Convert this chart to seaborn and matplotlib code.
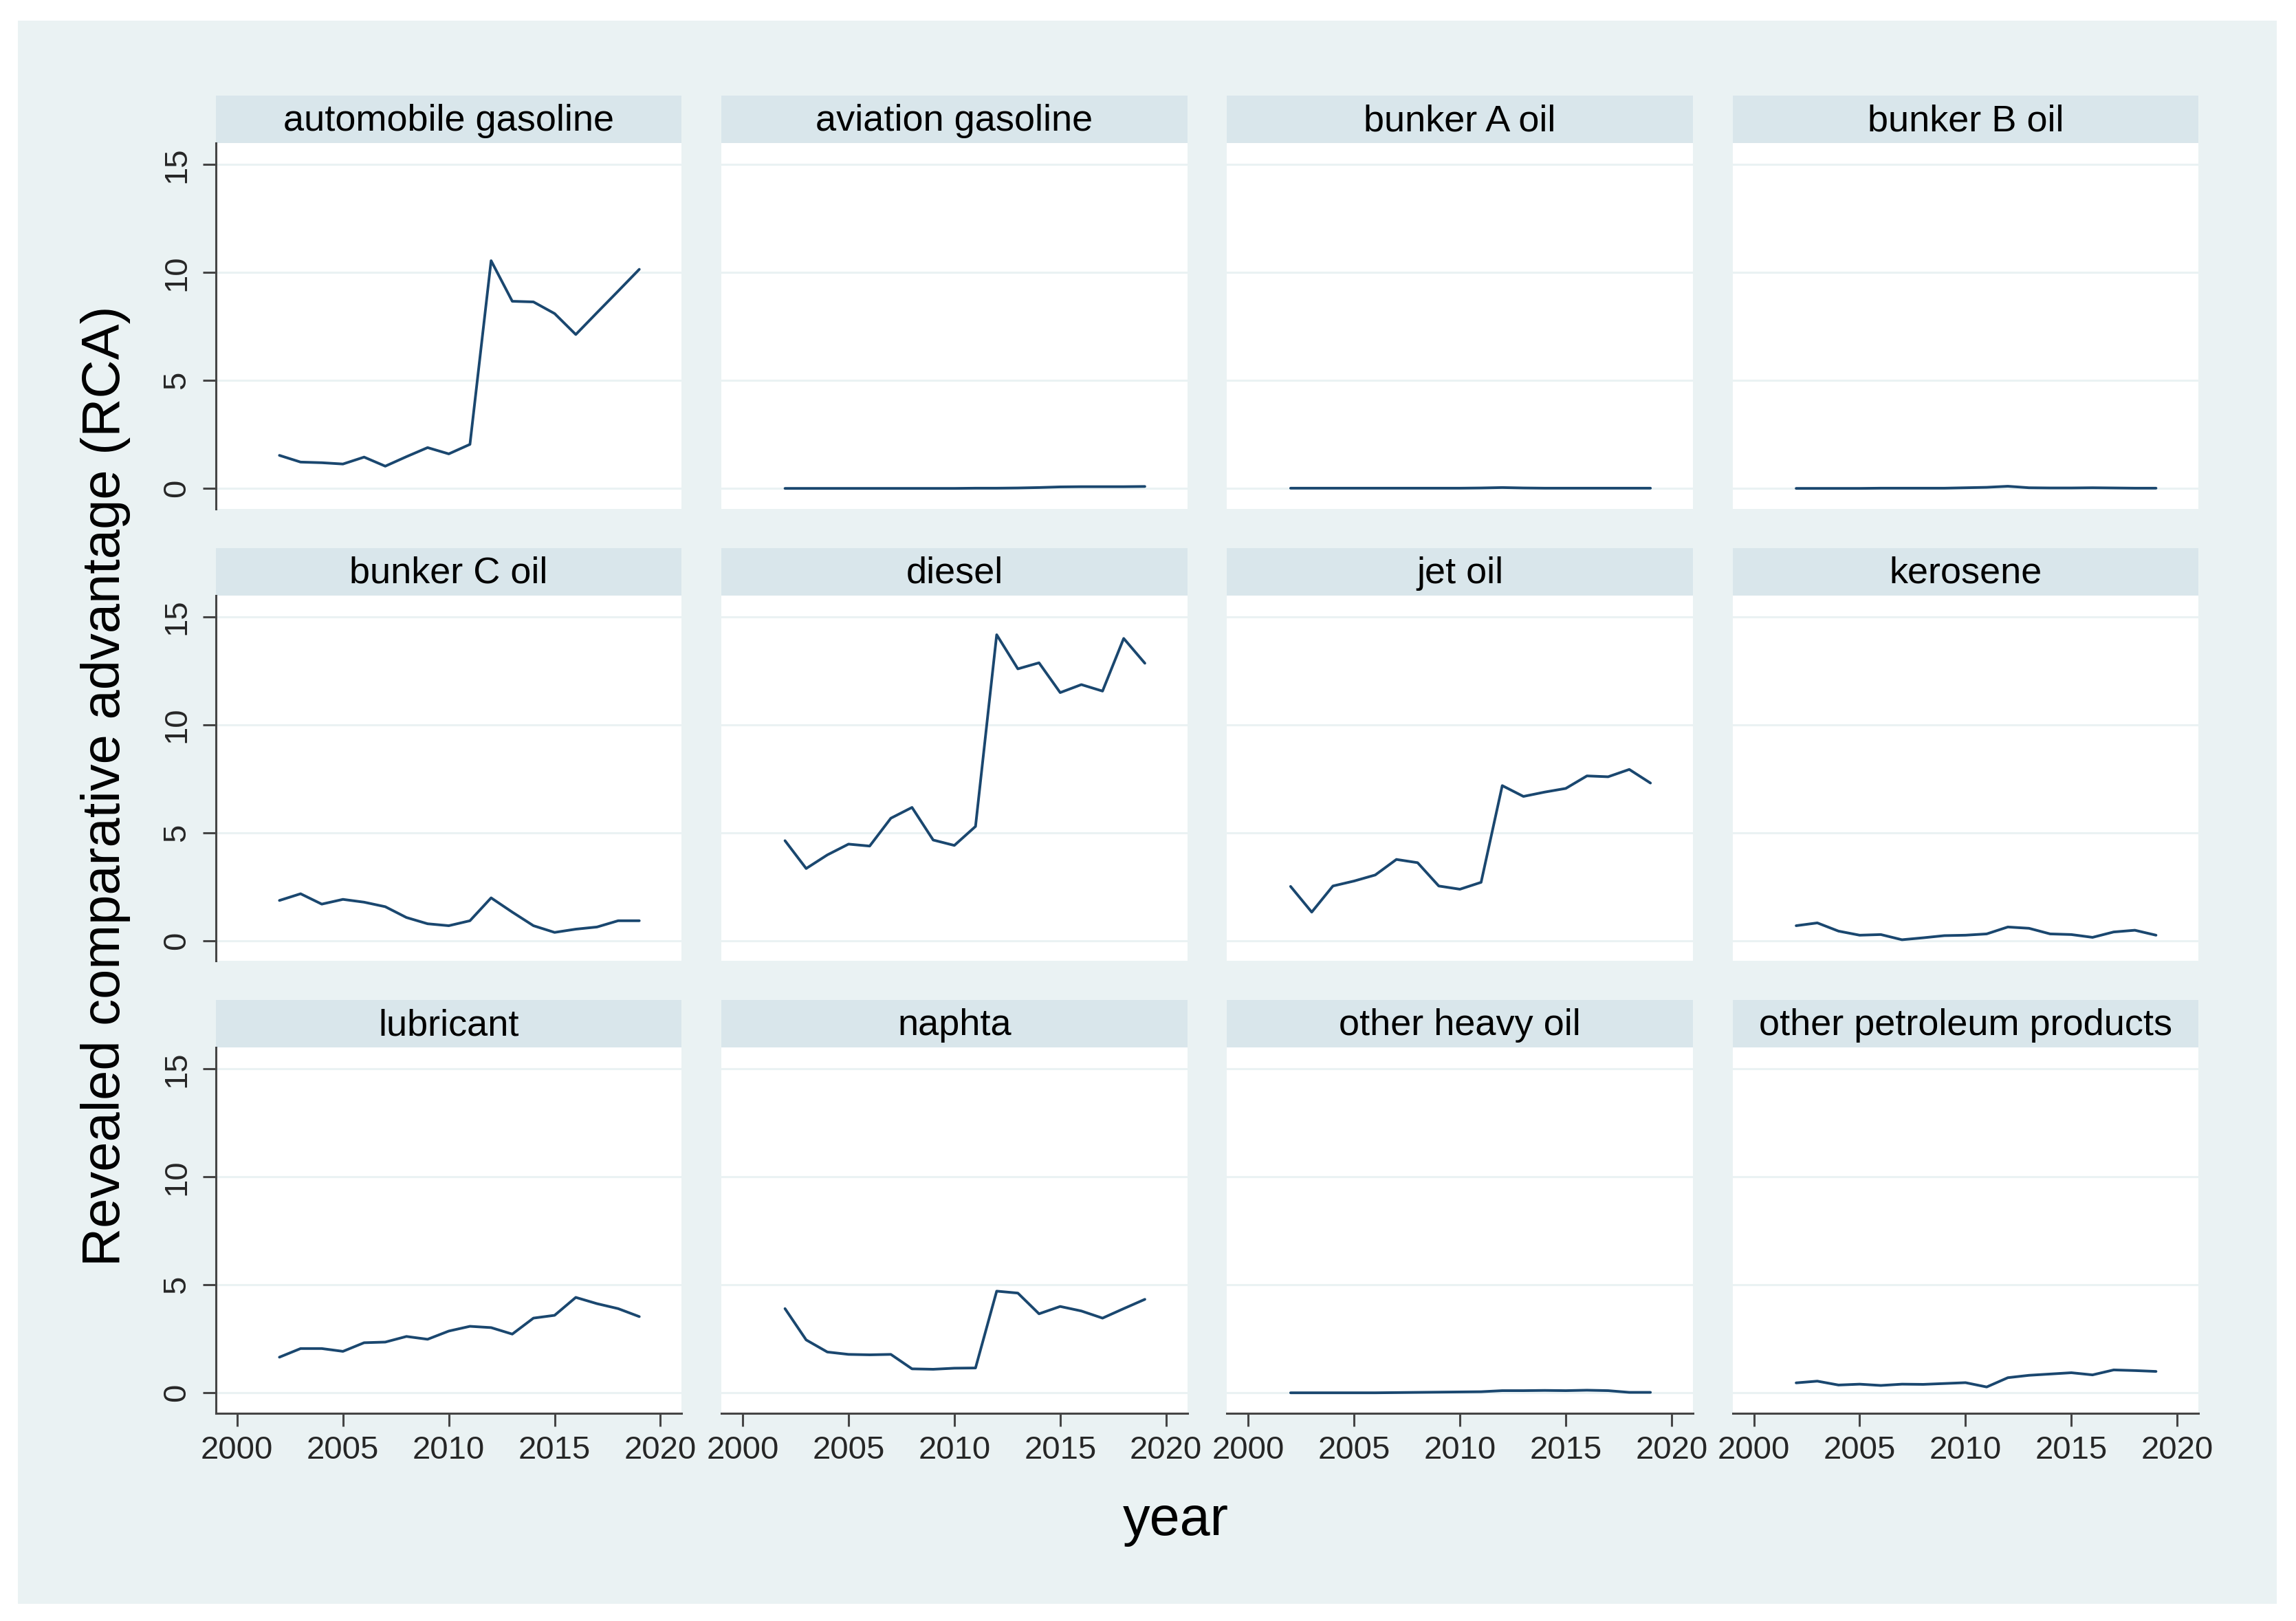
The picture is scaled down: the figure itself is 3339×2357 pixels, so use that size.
import numpy as np
import pandas as pd
import seaborn as sns
import matplotlib
matplotlib.use("Agg")
import matplotlib.pyplot as plt
from matplotlib.patches import Rectangle

# years covered by every series
years = list(range(2002, 2020))

products = ["automobile gasoline", "aviation gasoline", "bunker A oil", "bunker B oil",
            "bunker C oil", "diesel", "jet oil", "kerosene",
            "lubricant", "naphta", "other heavy oil", "other petroleum products"]

# RCA values, 2002..2019
automobile_gasoline = [1.53, 1.22, 1.19, 1.13, 1.45, 1.03, 1.47, 1.89, 1.60, 2.04,
                       10.55, 8.67, 8.64, 8.10, 7.13, 8.14, 9.14, 10.15]
aviation_gasoline = [0.00, 0.00, 0.00, 0.00, 0.00, 0.00, 0.00, 0.00, 0.00, 0.01,
                     0.01, 0.02, 0.04, 0.07, 0.08, 0.08, 0.08, 0.09]
bunker_a_oil = [0.01, 0.01, 0.01, 0.01, 0.01, 0.01, 0.01, 0.01, 0.01, 0.02,
                0.04, 0.02, 0.01, 0.01, 0.01, 0.01, 0.01, 0.01]
bunker_b_oil = [0.00, 0.00, 0.00, 0.00, 0.01, 0.01, 0.01, 0.01, 0.03, 0.05,
                0.10, 0.03, 0.02, 0.02, 0.03, 0.02, 0.01, 0.01]
bunker_c_oil = [1.86, 2.17, 1.69, 1.91, 1.78, 1.57, 1.07, 0.78, 0.69, 0.92,
                1.98, 1.32, 0.69, 0.38, 0.53, 0.63, 0.92, 0.92]
diesel = [4.63, 3.34, 3.97, 4.47, 4.38, 5.67, 6.17, 4.66, 4.41, 5.29,
          14.17, 12.59, 12.87, 11.49, 11.86, 11.56, 14.00, 12.85]
jet_oil = [2.51, 1.32, 2.53, 2.76, 3.04, 3.76, 3.61, 2.53, 2.38, 2.70,
           7.18, 6.68, 6.88, 7.05, 7.63, 7.59, 7.93, 7.30]
kerosene = [0.69, 0.82, 0.44, 0.25, 0.28, 0.04, 0.13, 0.23, 0.25, 0.31,
            0.63, 0.57, 0.31, 0.28, 0.15, 0.40, 0.48, 0.25]
lubricant = [1.65, 2.05, 2.05, 1.92, 2.32, 2.35, 2.61, 2.48, 2.86, 3.08,
             3.02, 2.72, 3.46, 3.59, 4.42, 4.13, 3.90, 3.53]
naphta = [3.90, 2.45, 1.89, 1.78, 1.76, 1.78, 1.11, 1.09, 1.14, 1.15,
          4.71, 4.62, 3.66, 4.00, 3.79, 3.46, 3.90, 4.33]
other_heavy_oil = [0.00, 0.00, 0.00, 0.00, 0.00, 0.01, 0.02, 0.03, 0.04, 0.05,
                   0.10, 0.10, 0.11, 0.10, 0.12, 0.10, 0.02, 0.02]
other_petroleum_products = [0.46, 0.54, 0.36, 0.40, 0.34, 0.40, 0.39, 0.43, 0.47, 0.27,
                            0.70, 0.81, 0.87, 0.93, 0.83, 1.06, 1.03, 0.99]

series = [automobile_gasoline, aviation_gasoline, bunker_a_oil, bunker_b_oil,
          bunker_c_oil, diesel, jet_oil, kerosene,
          lubricant, naphta, other_heavy_oil, other_petroleum_products]

y_ticks = [0, 5, 10, 15]
x_ticks = [2000, 2005, 2010, 2015, 2020]

# long table for seaborn
df = pd.DataFrame({
    "product": np.repeat(products, len(years)),
    "year": years * len(products),
    "rca": np.concatenate(series),
})

# colours (Stata s2color look)
bg_color = "#eaf2f3"
strip_color = "#d9e6eb"
line_color = "#1a476f"
axis_color = "#454545"

sns.set_style("white")
plt.rcParams["font.family"] = ["Liberation Sans", "DejaVu Sans"]

W, H = 3339, 2357
g = sns.relplot(data=df, x="year", y="rca", col="product", col_order=products,
                col_wrap=4, kind="line", color=line_color, linewidth=2.8,
                errorbar=None, height=5, aspect=1)
fig = g.figure
fig.set_size_inches(W / 100, H / 100)
fig.set_facecolor("white")
fig.subplots_adjust(left=314 / W, right=3197 / W, top=1 - 208 / H, bottom=1 - 2055 / H,
                    wspace=0.0856, hspace=0.236)

# light background panel with a thin white margin
fig.add_artist(Rectangle((26 / W, 1 - 2332 / H), (3311 - 26) / W, (2332 - 30) / H,
                         transform=fig.transFigure, facecolor=bg_color,
                         edgecolor="none", zorder=-10))

g.set_titles("")
g.set_axis_labels("", "")

strip_h = 69 / 532
for i, ax in enumerate(g.axes.flat):
    row, col = divmod(i, 4)
    ax.set_facecolor("white")
    ax.set_xlim(1999, 2021)
    ax.set_ylim(-0.95, 16)
    ax.set_xticks(x_ticks)
    ax.set_yticks(y_ticks)
    ax.set_axisbelow(True)
    ax.yaxis.grid(True, color=bg_color, linewidth=2.2)
    ax.xaxis.grid(False)

    for s in ["top", "right"]:
        ax.spines[s].set_visible(False)
    ax.spines["left"].set_visible(col == 0)
    ax.spines["bottom"].set_visible(row == 2)
    for s in ["left", "bottom"]:
        ax.spines[s].set_color(axis_color)
        ax.spines[s].set_linewidth(2.2)

    ax.tick_params(axis="y", left=(col == 0), labelleft=(col == 0), length=14, width=2.2,
                   color=axis_color, labelsize=34, pad=11, labelrotation=90)
    ax.tick_params(axis="x", bottom=(row == 2), labelbottom=(row == 2), length=14, width=2.2,
                   color=axis_color, labelsize=34, pad=9)
    for lab in ax.get_yticklabels():
        lab.set_va("center")

    # strip title on top of each panel
    ax.add_patch(Rectangle((0, 1), 1, strip_h, transform=ax.transAxes, clip_on=False,
                           facecolor=strip_color, edgecolor="none"))
    ax.text(0.5, 1 + 0.26 * strip_h, products[i], transform=ax.transAxes,
            ha="center", va="baseline", fontsize=39, color="black")

fig.text(0.046, 0.515, "Revealed comparative advantage (RCA)", rotation=90,
         ha="center", va="center", fontsize=56, color="black")
fig.text(0.512, 0.053, "year", ha="center", va="baseline", fontsize=57, color="black")

fig.savefig("out.png", dpi=100, facecolor="white")
